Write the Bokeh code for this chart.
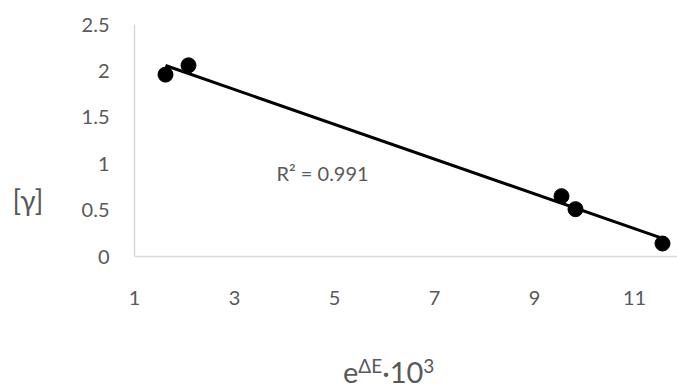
import numpy as np
from bokeh.plotting import figure
from bokeh.models import Range1d, FixedTicker, Label, Div
from bokeh.layouts import row, column
from bokeh.embed import file_html
from bokeh.resources import INLINE

# data
x_vals = [1.62, 2.08, 9.54, 9.82, 11.56]
y_vals = [1.96, 2.06, 0.65, 0.51, 0.14]
x_ticks = [1, 3, 5, 7, 9, 11]
y_ticks = [0, 0.5, 1, 1.5, 2, 2.5]
y_tick_labels = ["0", "0.5", "1", "1.5", "2", "2.5"]
r2_text = "R² = 0.991"
y_title = "[γ]"
x_title_html = "e<sup>ΔE</sup>·10<sup>3</sup>"

GRAY = "#595959"
FONT = "Lato"

LEFT_W = 70
BOTTOM_H = 40
W, H = 677, 390

p = figure(width=W - LEFT_W, height=H - BOTTOM_H, output_backend="svg", toolbar_location=None,
           x_range=Range1d(1, 11.86), y_range=Range1d(0, 2.5),
           min_border_left=134 - LEFT_W, min_border_right=0, min_border_top=24,
           min_border_bottom=(H - BOTTOM_H) - 256)
p.outline_line_color = None
p.grid.visible = False

for ax in (p.xaxis[0], p.yaxis[0]):
    ax.axis_line_color = "#d9d9d9"
    ax.axis_line_width = 1.5
    ax.major_tick_line_color = None
    ax.minor_tick_line_color = None
    ax.major_label_text_color = GRAY
    ax.major_label_text_font = FONT
    ax.major_label_text_font_size = "20px"

p.xaxis[0].ticker = FixedTicker(ticks=x_ticks)
p.xaxis[0].major_label_standoff = 28
p.yaxis[0].ticker = FixedTicker(ticks=y_ticks)
p.yaxis[0].major_label_overrides = {t: l for t, l in zip(y_ticks, y_tick_labels)}
p.yaxis[0].major_label_standoff = 19

# linear trendline
coef = np.polyfit(x_vals, y_vals, 1)
tx = np.array([min(x_vals), max(x_vals)])
p.line(tx, np.polyval(coef, tx), line_color="black", line_width=3)

p.scatter(x_vals, y_vals, size=15, marker="circle", fill_color="black", line_color="black")

p.add_layout(Label(x=3.84, y=0.905, text=r2_text, text_color=GRAY, text_font=FONT,
                   text_font_size="20px", text_baseline="middle", text_align="left"))

left_div = Div(
    text=(f'<div style="margin:0; padding-top:184px; width:56px; text-align:center; '
          f'line-height:32px; font-family:Lato; font-size:28px; color:{GRAY};">{y_title}</div>'),
    width=LEFT_W, height=H, margin=0,
)

bottom_div = Div(
    text=(f'<div style="margin:0; padding-top:7px; padding-left:{343 - LEFT_W}px; '
          f'white-space:nowrap; line-height:29px; font-family:Lato; font-size:29px; color:{GRAY};">'
          + x_title_html.replace("<sup>", '<sup style="font-size:19px; vertical-align:10px; line-height:0;">')
          + '</div>'),
    width=W - LEFT_W, height=BOTTOM_H, margin=0,
)

layout = row(left_div, column(p, bottom_div, spacing=0), spacing=0)

open("out.html", "w").write(file_html(layout, INLINE))
